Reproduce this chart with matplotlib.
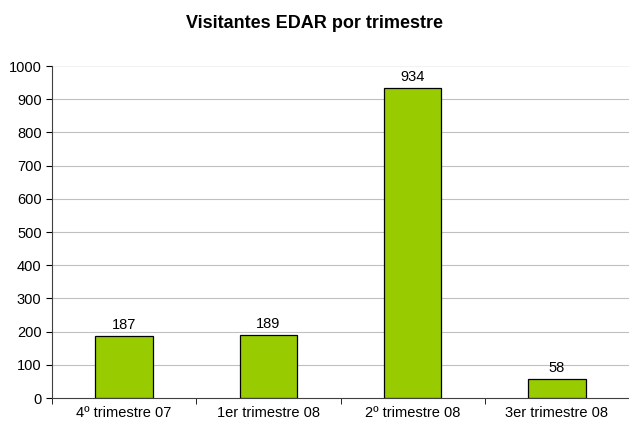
import matplotlib.pyplot as plt
import numpy as np

categories = ['4º trimestre 07', '1er trimestre 08', '2º trimestre 08', '3er trimestre 08']
visitantes = [187, 189, 934, 58]
y_ticks = list(range(0, 1001, 100))

plt.rcParams['font.family'] = ['Liberation Sans', 'DejaVu Sans']

fig = plt.figure(figsize=(6.29, 4.26), dpi=100)
ax = fig.add_axes([52 / 629, 28 / 426, 577 / 629, 332 / 426])

x = np.arange(len(categories))
bars = ax.bar(x, visitantes, width=0.4, color='#99CC00', edgecolor='black', linewidth=0.9, zorder=3)
for b, v in zip(bars, visitantes):
    ax.text(b.get_x() + b.get_width() / 2, v + 12, str(v), ha='center', va='bottom', fontsize=10.5)

ax.set_xlim(-0.5, len(categories) - 0.5)
ax.set_ylim(0, 1000)
ax.set_yticks(y_ticks)
ax.set_xticks(x)
ax.set_xticklabels(categories)
# marcas entre categorías (sin la del extremo derecho)
ax.set_xticks(np.arange(-0.5, len(categories) - 1), minor=True)
ax.tick_params(axis='x', which='major', length=0, pad=5.5, labelsize=10.5)
ax.tick_params(axis='x', which='minor', length=4, direction='out')
ax.tick_params(axis='y', length=4, direction='out', labelsize=10.5)

# líneas de división
for t in y_ticks[1:-1]:
    ax.axhline(t, color='#c0c0c0', linewidth=0.8, zorder=0)
ax.axhline(1000, color='#f2f2f2', linewidth=0.8, zorder=0)

for s in ['top', 'right']:
    ax.spines[s].set_visible(False)
ax.spines['left'].set_color('#404040')
ax.spines['bottom'].set_color('#404040')

fig.text(0.5, 0.945, 'Visitantes EDAR por trimestre', ha='center', va='center',
         fontsize=13, fontweight='bold')

fig.savefig('out.png', dpi=100)
